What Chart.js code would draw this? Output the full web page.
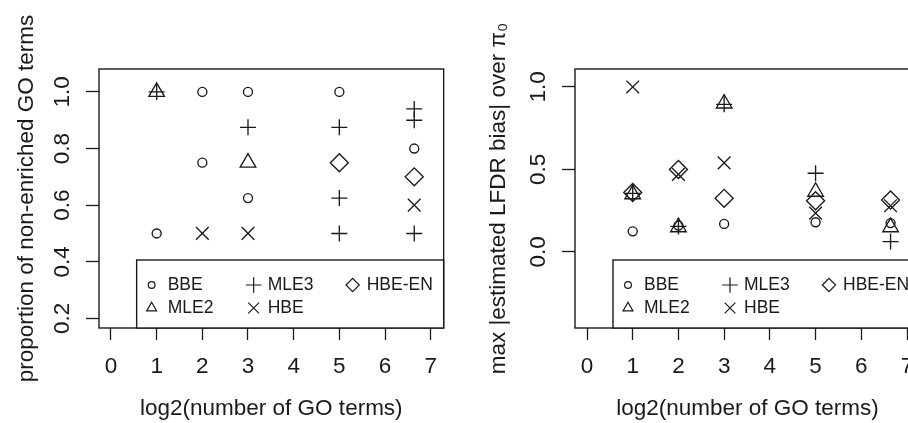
<!DOCTYPE html>
<html>
<head>
<meta charset="utf-8">
<script src="https://cdn.jsdelivr.net/npm/chart.js@4.4.1/dist/chart.umd.min.js"></script>
<style>
  html, body { margin: 0; padding: 0; background: #fff; }
  body { width: 908px; height: 423px; overflow: hidden; position: relative; }
  #left { position: absolute; left: 0; top: 0; }
  #right { position: absolute; left: 454px; top: 0; }
</style>
</head>
<body>
<canvas id="left" width="454" height="423"></canvas>
<canvas id="right" width="480" height="423"></canvas>
<script>
let methods = ["BBE", "MLE2", "MLE3", "HBE", "HBE-EN"];
let xTicks = [0, 1, 2, 3, 4, 5, 6, 7];
let yTicksProp = [0.2, 0.4, 0.6, 0.8, 1.0];
let yTicksBias = [0.0, 0.5, 1.0];

// left panel - proportion of non-enriched GO terms
let propBBEx = [1, 2, 2, 3, 3, 5, 6.64];
let propBBEy = [0.5, 1.0, 0.75, 1.0, 0.625, 1.0, 0.8];
let propMLE2x = [1, 3];
let propMLE2y = [1.0, 0.75];
let propMLE3x = [1, 3, 5, 5, 5, 6.64, 6.64, 6.64];
let propMLE3y = [1.0, 0.875, 0.875, 0.625, 0.5, 0.94, 0.9, 0.5];
let propHBEx = [2, 3, 6.64];
let propHBEy = [0.5, 0.5, 0.6];
let propHBEENx = [5, 6.64];
let propHBEENy = [0.75, 0.7];

// right panel - max |estimated LFDR bias| over pi0
let biasX = [1, 2, 3, 5, 6.64];
let biasBBE = [0.125, 0.16, 0.17, 0.18, 0.175];
let biasMLE2 = [0.35, 0.15, 0.9, 0.365, 0.15];
let biasMLE3 = [0.355, 0.155, 0.895, 0.477, 0.063];
let biasHBE = [1.0, 0.47, 0.54, 0.235, 0.28];
let biasHBEEN = [0.36, 0.5, 0.325, 0.31, 0.315];

const ink = "#1a1a1a";
const family = "'Liberation Sans', Arial, sans-serif";

// symbol look per method (plot radius, legend radius)
const looks = {
  "BBE":    { style: "circle",   r: 4.5, lr: 3.4 },
  "MLE2":   { style: "triangle", r: 9,   lr: 5.7 },
  "MLE3":   { style: "cross",    r: 8,   lr: 7.8 },
  "HBE":    { style: "crossRot", r: 9,   lr: 7.6 },
  "HBE-EN": { style: "rectRot",  r: 9,   lr: 6.6 }
};

function pts(xs, ys) {
  return xs.map((x, i) => ({ x: x, y: ys[i] }));
}

function makeSet(name, data) {
  let lk = looks[name];
  return {
    label: name,
    data: data,
    showLine: false,
    pointStyle: lk.style,
    pointRadius: lk.r,
    pointHoverRadius: lk.r,
    pointBorderWidth: 1.35,
    borderColor: ink,
    backgroundColor: "rgba(0,0,0,0)",
    legendRadius: lk.lr
  };
}

// box around the plot region plus an R-style legend in the bottom right
const rBox = {
  id: "rBox",
  afterDraw(chart) {
    const ctx = chart.ctx;
    const a = chart.chartArea;
    ctx.save();
    ctx.strokeStyle = ink;
    ctx.lineWidth = 1.4;
    ctx.strokeRect(a.left, a.top, a.right - a.left, a.bottom - a.top);

    const lw = 307, lh = 68;
    const L = a.right - lw, T = a.bottom - lh;
    ctx.fillStyle = "#fff";
    ctx.fillRect(L, T, lw, lh);
    ctx.strokeRect(L, T, lw, lh);

    const symX = [15, 117, 216];
    const txtX = [31, 131, 230];
    const rowY = [25, 48];
    ctx.font = "17.5px " + family;
    ctx.textBaseline = "middle";
    ctx.textAlign = "left";
    chart.data.datasets.forEach((ds, i) => {
      const col = Math.floor(i / 2), row = i % 2;
      const y = T + rowY[row];
      ctx.fillStyle = "rgba(0,0,0,0)";
      ctx.strokeStyle = ink;
      ctx.lineWidth = 1.2;
      Chart.helpers.drawPoint(ctx, {
        pointStyle: ds.pointStyle, radius: ds.legendRadius, borderWidth: 1.2, rotation: 0
      }, L + symX[col], y);
      ctx.fillStyle = ink;
      ctx.fillText(ds.label, L + txtX[col], y);
    });
    ctx.restore();
  }
};

function makeChart(id, o) {
  const tickFont = { family: family, size: 22.5 };
  return new Chart(document.getElementById(id), {
    type: "scatter",
    data: { datasets: o.datasets },
    plugins: [rBox],
    options: {
      responsive: false,
      animation: false,
      layout: { padding: { top: 69, right: o.rightPad, left: 0, bottom: 0 } },
      plugins: { legend: { display: false }, tooltip: { enabled: false } },
      scales: {
        x: {
          type: "linear",
          min: -0.2625,
          max: 7.284,
          afterBuildTicks: (s) => { s.ticks = xTicks.map((v) => ({ value: v })); },
          afterFit: (s) => { s.height = 95; },
          ticks: {
            font: tickFont, color: ink, padding: 13,
            autoSkip: false, maxRotation: 0, minRotation: 0,
            callback: (v) => String(v)
          },
          grid: { drawOnChartArea: false, drawTicks: true, tickLength: 12, tickColor: ink, tickWidth: 1.3 },
          border: { display: false },
          title: {
            display: true, text: "log2(number of GO terms)",
            font: tickFont, color: ink, padding: { top: 0, bottom: 1 }
          }
        },
        y: {
          type: "linear",
          min: o.yMin,
          max: o.yMax,
          afterBuildTicks: (s) => { s.ticks = o.yTicks.map((v) => ({ value: v })); },
          afterFit: (s) => { s.width = o.yWidth; },
          ticks: {
            font: tickFont, color: ink, padding: 7.5,
            autoSkip: false, minRotation: 90, maxRotation: 90, crossAlign: "center",
            callback: (v) => v.toFixed(1)
          },
          grid: { drawOnChartArea: false, drawTicks: true, tickLength: 13, tickColor: ink, tickWidth: 1.3 },
          border: { display: false },
          title: {
            display: true, text: o.yTitle,
            font: tickFont, color: ink, padding: { top: o.yTitlePad, bottom: 0 }
          }
        }
      }
    }
  });
}

makeChart("left", {
  datasets: [
    makeSet("BBE", pts(propBBEx, propBBEy)),
    makeSet("MLE2", pts(propMLE2x, propMLE2y)),
    makeSet("MLE3", pts(propMLE3x, propMLE3y)),
    makeSet("HBE", pts(propHBEx, propHBEy)),
    makeSet("HBE-EN", pts(propHBEENx, propHBEENy))
  ],
  yMin: 0.166, yMax: 1.081, yTicks: yTicksProp,
  yTitle: "proportion of non-enriched GO terms",
  yWidth: 99, yTitlePad: 13.5, rightPad: 10
});

makeChart("right", {
  datasets: [
    makeSet("BBE", pts(biasX, biasBBE)),
    makeSet("MLE2", pts(biasX, biasMLE2)),
    makeSet("MLE3", pts(biasX, biasMLE3)),
    makeSet("HBE", pts(biasX, biasHBE)),
    makeSet("HBE-EN", pts(biasX, biasHBEEN))
  ],
  yMin: -0.461, yMax: 1.109, yTicks: yTicksBias,
  yTitle: "max |estimated LFDR bias| over \u03c0\u2080",
  yWidth: 121, yTitlePad: 31.5, rightPad: 14
});
</script>
</body>
</html>
